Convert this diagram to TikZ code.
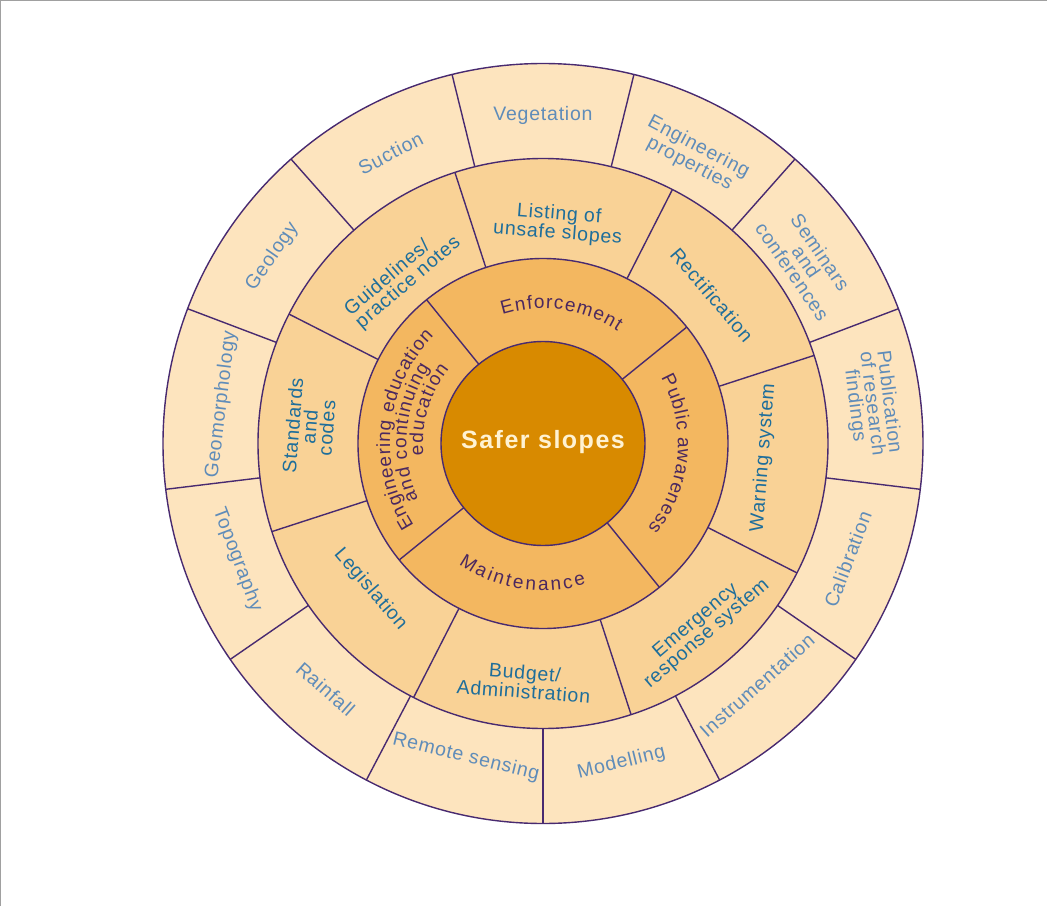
\documentclass[tikz,border=0pt]{standalone}
\usepackage{fontspec}
\setmainfont{Liberation Sans}
\newfontfamily\chartfont[LetterSpace=4]{Liberation Sans}
\newfontfamily\hubfont[LetterSpace=6]{Liberation Sans}
\newfontfamily\arcfont{Liberation Sans}
\newcommand\ringtwotype{\arcfont\fontsize{19}{20}\selectfont}
\usetikzlibrary{decorations.text}

\definecolor{rim}{RGB}{72,42,112}
\definecolor{outerfill}{RGB}{253,228,190}
\definecolor{midfill}{RGB}{249,210,150}
\definecolor{innerfill}{RGB}{243,183,96}
\definecolor{hubfill}{RGB}{216,138,0}
\definecolor{outertext}{RGB}{95,140,185}
\definecolor{midtext}{RGB}{30,110,155}
\definecolor{innertext}{RGB}{75,40,95}
\definecolor{hubtext}{RGB}{255,242,210}
\definecolor{edgegray}{RGB}{160,160,160}

\begin{document}
\begin{tikzpicture}[x=1pt,y=1pt,
  ringline/.style={draw=rim, line width=1.4pt},
  outerlabel/.style={font=\chartfont\fontsize{19.5}{17}\selectfont, text=outertext, align=center, inner sep=0pt},
  midlabel/.style={font=\chartfont\fontsize{19.5}{17}\selectfont, text=midtext, align=center, inner sep=0pt},
  arcword/.style={decorate, decoration={text along path, text align={fit to path}, text color=innertext}}
]
% page and its frame
\fill[white] (-543,-462.5) rectangle (504,443.5);
\useasboundingbox (-543,-462.5) rectangle (504,443.5);
\draw[edgegray, line width=1pt] (-542.5,-462.5) -- (-542.5,443) -- (504,443);

% rings, from the rim inwards
\draw[ringline, fill=outerfill] (0,0) circle[radius=380];
\draw[ringline, fill=midfill] (0,0) circle[radius=285];
\draw[ringline, fill=innerfill] (0,0) circle[radius=185];
\draw[ringline, fill=hubfill] (0,0) circle[radius=102];

% segment dividers
\foreach \k in {0,...,12}
  \draw[ringline] ({-90+\k*360/13}:285) -- ({-90+\k*360/13}:380);
\foreach \a in {18,63,...,333}
  \draw[ringline] (\a:185) -- (\a:285);
\foreach \a in {39,129,219,309}
  \draw[ringline] (\a:102) -- (\a:185);

% hub
\node[font=\hubfont\bfseries\fontsize{25}{30}\selectfont, text=hubtext] (hub) at (0,1) {Safer slopes};

% inner ring: curved captions
\path[arcword, decoration={text={|\ringtwotype|Enforcement}}]
  (107.5:135) arc[start angle=107.5, end angle=56.5, radius=135];
\path[arcword, decoration={text={|\ringtwotype|Public awareness}}]
  (29:135) arc[start angle=29, end angle=-39, radius=135];
\path[arcword, decoration={text={|\ringtwotype|Maintenance}}]
  (235:147) arc[start angle=235, end angle=287, radius=147];
\path[arcword, decoration={text={|\ringtwotype|Engineering education}}]
  (212.5:153) arc[start angle=212.5, end angle=135.5, radius=153];
\path[arcword, decoration={text={|\ringtwotype|and continuing}}]
  (204:136.5) arc[start angle=204, end angle=146, radius=136.5];
\path[arcword, decoration={text={|\ringtwotype|education}}]
  (185.5:120) arc[start angle=185.5, end angle=141.5, radius=120];

% middle ring
\node[midlabel, rotate=-4.5] (listing) at (86:220) {Listing of\\unsafe slopes};
\node[midlabel, rotate=-49.5] (rectif) at (41.3:225) {Rectification};
\node[midlabel, rotate=85.5] (warn) at (-3.7:221) {Warning system};
\node[midlabel, rotate=40.5] (emerg) at (-49.3:243) {Emergency\\response system};
\node[midlabel, rotate=-4.5] (budget) at (-94.5:239) {Budget/\\Administration};
\node[midlabel, rotate=-49.5] (legis) at (220.2:226) {Legislation};
\node[midlabel, rotate=85.5] (standards) at (175.9:234) {Standards\\and\\codes};
\node[midlabel, rotate=40.5, align=left] (guide) at (130:218) {Guidelines/\\practice notes};

% outer ring
\node[outerlabel, rotate=0] (veg) at (90:328) {Vegetation};
\node[outerlabel, rotate=-27.7] (engprop) at (62.3:325) {Engineering\\properties};
\node[outerlabel, rotate=-55.4] (seminar) at (34.6:320) {Seminars\\and\\conferences};
\node[outerlabel, rotate=-83.1] (publ) at (6.9:331) {Publication\\of research\\findings};
\node[outerlabel, rotate=69.2] (calib) at (-20.8:326) {Calibration};
\node[outerlabel, rotate=41.5] (instr) at (-48.5:323) {Instrumentation};
\node[outerlabel, rotate=13.8] (model) at (-76.2:329) {Modelling};
\node[outerlabel, rotate=-13.8] (remote) at (-103.8:323) {Remote sensing};
\node[outerlabel, rotate=-41.5] (rain) at (228.5:328) {Rainfall};
\node[outerlabel, rotate=-69.2] (topo) at (200.8:327) {Topography};
\node[outerlabel, rotate=83.1] (geomorph) at (173.1:324) {Geomorphology};
\node[outerlabel, rotate=55.4] (geol) at (145.4:329) {Geology};
\node[outerlabel, rotate=27.7] (suct) at (117.7:328) {Suction};
\end{tikzpicture}
\end{document}
